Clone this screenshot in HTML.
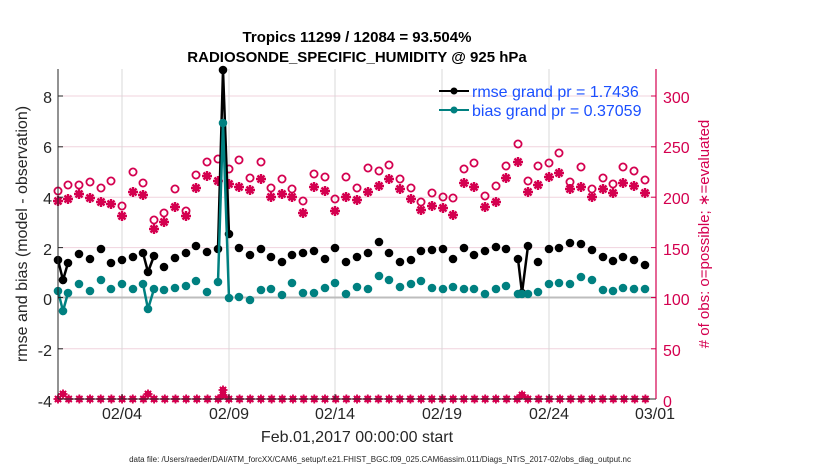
<!DOCTYPE html>
<html><head><meta charset="utf-8"><style>
body{margin:0;background:#fff;}
svg{display:block;font-family:"Liberation Sans",Arial,sans-serif;}
</style></head><body>
<svg id="s" width="830" height="470" viewBox="0 0 830 470" xmlns="http://www.w3.org/2000/svg">
<rect width="830" height="470" fill="#fff"/>
<g id="grid"></g>
<g id="data"></g>
<line x1="58" y1="69" x2="58" y2="399" stroke="#262626" stroke-width="1"/>
<line x1="58" y1="399" x2="656" y2="399" stroke="#262626" stroke-width="1"/>
<line x1="656" y1="69" x2="656" y2="399" stroke="#d4004f" stroke-width="1.2"/>
<g id="ticks"></g>
<g font-size="16" fill="#262626" text-anchor="end">
<text x="52" y="103">8</text><text x="52" y="153">6</text><text x="52" y="204">4</text>
<text x="52" y="255">2</text><text x="52" y="305">0</text><text x="52" y="356">-2</text><text x="52" y="407">-4</text>
</g>
<g font-size="16" fill="#d4004f" text-anchor="start">
<text x="663" y="103">300</text><text x="663" y="153">250</text><text x="663" y="204">200</text>
<text x="663" y="255">150</text><text x="663" y="305">100</text><text x="663" y="356">50</text><text x="663" y="407">0</text>
</g>
<g font-size="16" fill="#262626" text-anchor="middle">
<text x="122" y="419">02/04</text><text x="229" y="419">02/09</text><text x="335" y="419">02/14</text>
<text x="442" y="419">02/19</text><text x="549" y="419">02/24</text><text x="655" y="419">03/01</text>
<text x="357" y="442">Feb.01,2017 00:00:00 start</text>
</g>
<text x="380" y="462" font-size="8" fill="#262626" text-anchor="middle">data file: /Users/raeder/DAI/ATM_forcXX/CAM6_setup/f.e21.FHIST_BGC.f09_025.CAM6assim.011/Diags_NTrS_2017-02/obs_diag_output.nc</text>
<text transform="translate(27,234) rotate(-90)" font-size="16" fill="#262626" text-anchor="middle">rmse and bias (model - observation)</text>
<text transform="translate(709,234) rotate(-90)" font-size="15" fill="#d4004f" text-anchor="middle"># of obs: o=possible; ∗=evaluated</text>
<g font-size="15" font-weight="bold" fill="#000" text-anchor="middle">
<text x="357" y="42">Tropics 11299 / 12084 = 93.504%</text>
<text x="357" y="62">RADIOSONDE_SPECIFIC_HUMIDITY @ 925 hPa</text>
</g>
<g>
<line x1="439" y1="91" x2="469" y2="91" stroke="#000" stroke-width="2"/><circle cx="454" cy="91" r="3.5" fill="#000"/>
<line x1="439" y1="110" x2="469" y2="110" stroke="#008080" stroke-width="2"/><circle cx="454" cy="110" r="3.5" fill="#008080"/>
<text x="472" y="97" font-size="16" fill="#1a4fff">rmse grand pr = 1.7436</text>
<text x="472" y="116" font-size="16" fill="#1a4fff">bias grand pr = 0.37059</text>
</g>
</svg>
<script>
var NS="http://www.w3.org/2000/svg";
function el(p,t,a){var e=document.createElementNS(NS,t);for(var k in a)e.setAttribute(k,a[k]);document.getElementById(p).appendChild(e);return e;}
[96,146.8,197.2,247.6,348.8].forEach(function(y){el("grid","line",{x1:58,x2:656,y1:y,y2:y,stroke:"#f1d3de","stroke-width":1});});
[122,229,335,442,549].forEach(function(x){el("grid","line",{x1:x,x2:x,y1:69,y2:399,stroke:"#d8d8d8","stroke-width":1});});
el("grid","line",{x1:58,x2:656,y1:297.5,y2:297.5,stroke:"#bdbdbd","stroke-width":2});
[96,146.8,197.2,247.6,297.5,348.8].forEach(function(y){el("ticks","line",{x1:58,x2:63,y1:y,y2:y,stroke:"#262626"});el("ticks","line",{x1:651,x2:656,y1:y,y2:y,stroke:"#d4004f"});});
[122,229,335,442,549].forEach(function(x){el("ticks","line",{x1:x,x2:x,y1:399,y2:394,stroke:"#262626"});});
var rm=[[58,260],[63,280],[68,263],[79,254],[90,259],[101,249],[111,263],[122,260],[133,257],[143,253],[148,272],[154,256],[164,267],[175,258],[186,253],[196,246],[207,252],[218,249],[223,70],[229,234],[239,248],[250,255],[261,249],[271,257],[282,262],[292,255],[303,253],[314,251],[325,259],[335,248],[346,262],[357,257],[368,253],[379,242],[389,253],[400,262],[411,260],[421,251],[432,250],[443,249],[453,259],[464,248],[474,255],[485,251],[496,247],[506,249],[518,259],[522,293],[528,246],[538,262],[549,249],[559,248],[570,243],[581,244],[592,250],[603,257],[613,261],[623,257],[634,260],[645,265]];
var bi=[[58,291],[63,311],[68,293],[79,284],[90,291],[101,280],[111,289],[122,284],[133,289],[143,284],[148,309],[154,289],[164,290],[175,288],[186,286],[196,281],[207,292],[218,282],[223,123],[229,298],[239,297],[250,300],[261,290],[271,289],[282,295],[292,283],[303,293],[314,293],[325,288],[335,283],[346,294],[357,287],[368,289],[379,276],[389,280],[400,287],[411,284],[421,281],[432,288],[443,289],[453,287],[464,289],[474,289],[485,294],[496,289],[506,286],[518,294],[522,294],[528,294],[538,292],[549,284],[559,283],[570,284],[581,277],[592,280],[603,290],[613,291],[623,288],[634,289],[645,289]];
var ci=[[58,191],[68,185],[79,185],[90,182],[101,188],[111,181],[122,206],[133,172],[143,183],[154,220],[164,213],[175,189],[186,211],[196,175],[207,162],[218,159],[229,169],[239,160],[250,178],[261,162],[271,188],[282,179],[292,189],[303,201],[314,174],[325,177],[335,199],[346,177],[357,188],[368,168],[379,171],[389,165],[400,179],[411,188],[421,202],[432,193],[443,197],[453,198],[464,169],[474,163],[485,196],[496,186],[506,166],[518,144],[528,181],[538,166],[549,163],[559,153],[570,182],[581,167],[592,189],[603,178],[613,184],[623,167],[634,171],[645,180]];
var as=[[58,201],[68,199],[79,194],[90,198],[101,202],[111,204],[122,216],[133,192],[143,195],[154,229],[164,222],[175,207],[186,216],[196,188],[207,176],[218,181],[229,184],[239,187],[250,190],[261,179],[271,197],[282,194],[292,197],[303,213],[314,187],[325,191],[335,211],[346,197],[357,200],[368,192],[379,186],[389,179],[400,189],[411,199],[421,210],[432,206],[443,208],[453,215],[464,183],[474,187],[485,207],[496,202],[506,178],[518,162],[528,192],[538,185],[549,177],[559,173],[570,189],[581,187],[592,197],[603,189],[613,193],[623,183],[634,186],[645,193]];
var PK="#d4004f";
function star(x,y,r,w){var d="M"+(x-r)+" "+y+"H"+(x+r)+"M"+x+" "+(y-r)+"V"+(y+r)+"M"+(x-r*.7)+" "+(y-r*.7)+"L"+(x+r*.7)+" "+(y+r*.7)+"M"+(x-r*.7)+" "+(y+r*.7)+"L"+(x+r*.7)+" "+(y-r*.7);el("data","path",{d:d,stroke:PK,"stroke-width":w||2.2,fill:"none"});}
ci.forEach(function(p){el("data","circle",{cx:p[0],cy:p[1],r:3.6,fill:"none",stroke:PK,"stroke-width":1.8});});
as.forEach(function(p){star(p[0],p[1],5,2.4);});
var bx=[];for(var k=0;k<=55;k++)bx.push(58+10.68*k);
bx.forEach(function(x){el("data","circle",{cx:x,cy:399,r:3.4,fill:PK});star(x,399,4.5,1.8);});
[[63,394],[148,394],[223,390],[223,395],[522,395]].forEach(function(p){el("data","circle",{cx:p[0],cy:p[1],r:3.4,fill:PK});star(p[0],p[1],4.5,1.8);});
function seg(arr,col){var runs=[[0,3],[9,12],[17,20],[46,49]];runs.forEach(function(r){var pts=arr.slice(r[0],r[1]).map(function(p){return p.join(",");}).join(" ");el("data","polyline",{points:pts,fill:"none",stroke:col,"stroke-width":2.5});});
arr.forEach(function(p){el("data","circle",{cx:p[0],cy:p[1],r:4.3,fill:col});});}
seg(rm,"#000");seg(bi,"#008080");
</script>
</body></html>
